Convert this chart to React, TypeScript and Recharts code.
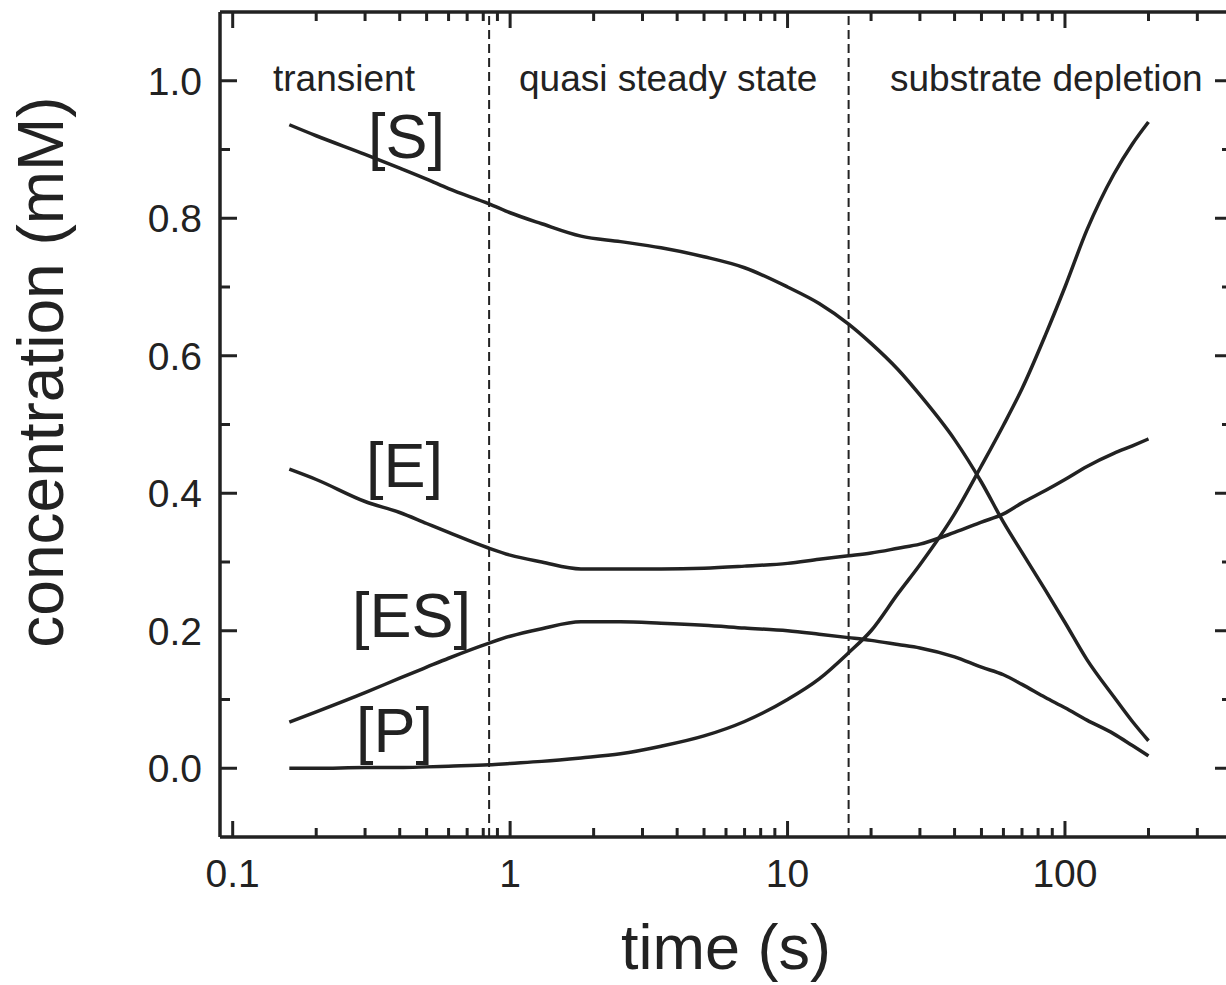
import { LineChart, Line, XAxis, YAxis, ReferenceLine } from 'recharts';

const INK = '#222222';
const FONT = '"Liberation Sans", Arial, sans-serif';

// time points (s)
const times = [
    0.16, 0.2, 0.3, 0.4, 0.5, 0.6, 0.84, 1.0, 1.3, 1.8, 2.5, 3.5, 5, 7, 10, 13, 16.6, 20, 25, 30, 40, 50, 60,
    70, 85, 100, 120, 150, 175, 200,
];
const substrate = [
    0.936, 0.92, 0.893, 0.873, 0.857, 0.843, 0.821, 0.808, 0.792, 0.774, 0.766, 0.757, 0.744, 0.728, 0.7,
    0.676, 0.646, 0.618, 0.58, 0.543, 0.478, 0.416, 0.358, 0.314, 0.259, 0.212, 0.158, 0.104, 0.068, 0.04,
];
const enzyme = [
    0.435, 0.42, 0.388, 0.372, 0.356, 0.343, 0.32, 0.31, 0.3, 0.29, 0.29, 0.29, 0.291, 0.294, 0.298, 0.304,
    0.309, 0.313, 0.32, 0.326, 0.343, 0.358, 0.37, 0.386, 0.404, 0.42, 0.439, 0.458, 0.469, 0.479,
];
const complex = [
    0.067, 0.082, 0.11, 0.131, 0.147, 0.16, 0.182, 0.192, 0.203, 0.213, 0.213, 0.211, 0.208, 0.204, 0.2,
    0.195, 0.19, 0.186, 0.18, 0.175, 0.162, 0.147, 0.136, 0.122, 0.103, 0.088, 0.07, 0.05, 0.033, 0.018,
];
const product = [
    0, 0, 0.001, 0.001, 0.002, 0.003, 0.005, 0.007, 0.01, 0.015, 0.021, 0.032, 0.047, 0.068, 0.1, 0.13,
    0.168, 0.2, 0.254, 0.296, 0.37, 0.44, 0.499, 0.552, 0.63, 0.7, 0.783, 0.864, 0.908, 0.94,
];

const phaseBounds = [0.84, 16.6];
const xTicks = [
    0.1, 0.2, 0.3, 0.4, 0.5, 0.6, 0.7, 0.8, 0.9, 1, 2, 3, 4, 5, 6, 7, 8, 9, 10, 20, 30, 40, 50, 60, 70, 80, 90,
    100, 200, 300,
];
const yTicks = [0, 0.1, 0.2, 0.3, 0.4, 0.5, 0.6, 0.7, 0.8, 0.9, 1.0];

const data = times.map((t, i) => ({
    t,
    S: substrate[i],
    E: enzyme[i],
    ES: complex[i],
    P: product[i],
}));

const isMajorX = (v: number) => Math.abs(Math.log10(v) - Math.round(Math.log10(v))) < 1e-6;
const isMajorY = (v: number) => Math.abs(v * 5 - Math.round(v * 5)) < 1e-6;

const XTick = (props: any) => {
    const { x, y, payload, top } = props;
    const major = isMajorX(payload.value);
    const len = major ? 16 : 9;
    const dir = top ? 1 : -1;
    return (
        <g>
            <line x1={x} x2={x} y1={y} y2={y + dir * len} stroke={INK} strokeWidth={3} />
            {!top && major && (
                <text x={x} y={y + 50} textAnchor="middle" fontSize={39} fontFamily={FONT} fill={INK}>
                    {String(payload.value)}
                </text>
            )}
        </g>
    );
};

const YTick = (props: any) => {
    const { x, y, payload, right } = props;
    const major = isMajorY(payload.value);
    const len = major ? 17 : 10;
    const dir = right ? -1 : 1;
    return (
        <g>
            <line x1={x} x2={x + dir * len} y1={y} y2={y} stroke={INK} strokeWidth={3} />
            {!right && major && (
                <text x={x - 18} y={y + 14} textAnchor="end" fontSize={39} fontFamily={FONT} fill={INK}>
                    {payload.value.toFixed(1)}
                </text>
            )}
        </g>
    );
};

const axisLine = { stroke: INK, strokeWidth: 3.5 };
const labelStyle = { fontFamily: FONT, fill: INK };

export default function App() {
    return (
        <div style={{ position: 'absolute', left: 0, top: 0, width: 1226, height: 985, overflow: 'hidden', background: '#fff' }}>
            <LineChart width={1240} height={985} data={data} margin={{ top: 0, right: 0, bottom: 0, left: 0 }}>
                <XAxis
                    dataKey="t"
                    type="number"
                    scale="log"
                    domain={[0.09, 400]}
                    allowDataOverflow
                    ticks={xTicks}
                    interval={0}
                    height={148}
                    tickSize={0}
                    tickMargin={0}
                    tickLine={false}
                    axisLine={axisLine}
                    tick={(p: any) => <XTick {...p} />}
                />
                <XAxis
                    xAxisId="top"
                    orientation="top"
                    dataKey="t"
                    type="number"
                    scale="log"
                    domain={[0.09, 400]}
                    allowDataOverflow
                    ticks={xTicks}
                    interval={0}
                    height={12}
                    tickSize={0}
                    tickMargin={0}
                    tickLine={false}
                    axisLine={axisLine}
                    tick={(p: any) => <XTick {...p} top />}
                />
                <YAxis
                    type="number"
                    domain={[-0.1, 1.1]}
                    allowDataOverflow
                    ticks={yTicks}
                    interval={0}
                    width={220}
                    tickSize={0}
                    tickMargin={0}
                    tickLine={false}
                    axisLine={axisLine}
                    tick={(p: any) => <YTick {...p} />}
                />
                <YAxis
                    yAxisId="right"
                    orientation="right"
                    type="number"
                    domain={[-0.1, 1.1]}
                    allowDataOverflow
                    ticks={yTicks}
                    interval={0}
                    width={8}
                    tickSize={0}
                    tickMargin={0}
                    tickLine={false}
                    axisLine={axisLine}
                    tick={(p: any) => <YTick {...p} right />}
                />
                {phaseBounds.map((b) => (
                    <ReferenceLine key={b} x={b} stroke={INK} strokeWidth={2} strokeDasharray="9 5" />
                ))}
                <Line type="monotone" dataKey="S" stroke={INK} strokeWidth={3.5} dot={false} isAnimationActive={false} />
                <Line type="monotone" dataKey="E" stroke={INK} strokeWidth={3.5} dot={false} isAnimationActive={false} />
                <Line type="monotone" dataKey="ES" stroke={INK} strokeWidth={3.5} dot={false} isAnimationActive={false} />
                <Line type="monotone" dataKey="P" stroke={INK} strokeWidth={3.5} dot={false} isAnimationActive={false} />

                <text x={273} y={91} fontSize={37} {...labelStyle}>transient</text>
                <text x={519} y={91} fontSize={37} {...labelStyle}>quasi steady state</text>
                <text x={890} y={91} fontSize={37} {...labelStyle}>substrate depletion</text>

                <text x={368} y={158} fontSize={63} {...labelStyle}>[S]</text>
                <text x={366} y={487} fontSize={63} {...labelStyle}>[E]</text>
                <text x={352} y={637} fontSize={63} {...labelStyle}>[ES]</text>
                <text x={356} y={752} fontSize={63} {...labelStyle}>[P]</text>

                <text x={726} y={969} fontSize={63} textAnchor="middle" {...labelStyle}>time (s)</text>
                <text
                    x={63}
                    y={372}
                    fontSize={64}
                    textAnchor="middle"
                    transform="rotate(-90 63 372)"
                    {...labelStyle}
                >
                    concentration (mM)
                </text>
            </LineChart>
        </div>
    );
}
